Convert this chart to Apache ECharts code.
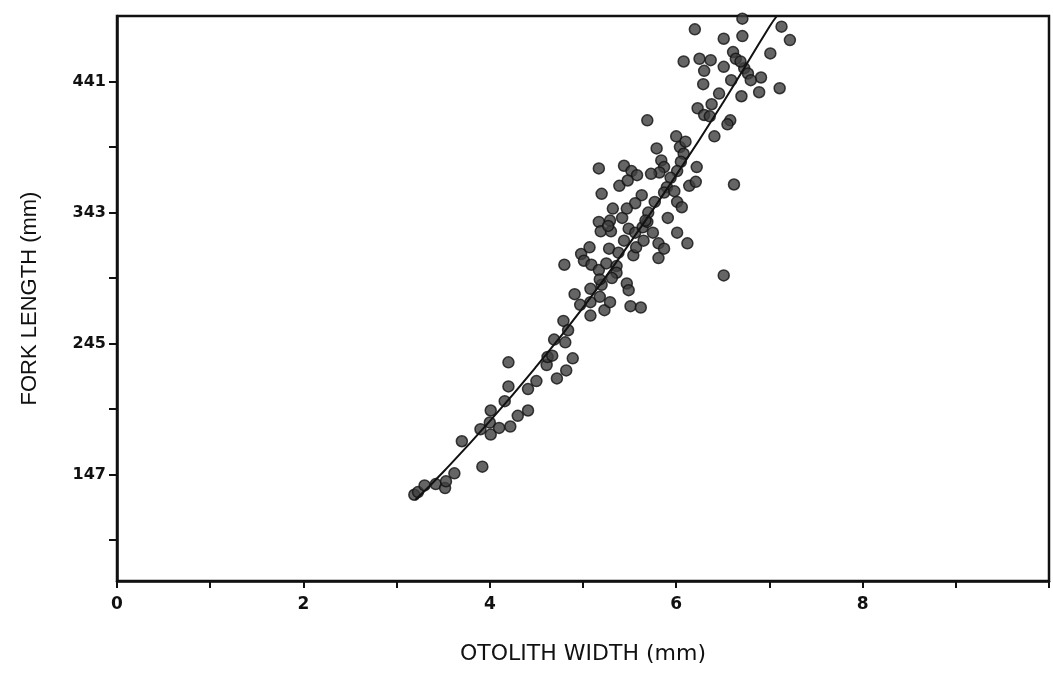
<!DOCTYPE html>
<html>
<head>
<meta charset="utf-8">
<script src="https://cdn.jsdelivr.net/npm/echarts@6/dist/echarts.min.js"></script>
<style>
html,body{margin:0;padding:0;background:#fff;}
#chart{width:1053px;height:674px;}
</style>
</head>
<body>
<div id="chart"></div>
<script>
// Otolith width (mm) of each fish
const otolithWidth = [
  3.19,3.23,3.30,3.42,3.52,3.53,3.62,3.92,3.70,3.90,
  4.01,4.00,4.01,4.10,4.22,4.16,4.30,4.41,4.20,4.20,
  4.41,4.50,4.61,4.62,4.67,4.72,4.82,4.89,4.69,4.81,
  4.79,4.84,4.91,4.97,5.08,5.08,5.08,5.18,5.20,5.23,
  5.29,5.47,5.49,5.51,5.62,4.80,4.98,5.01,5.07,5.09,
  5.17,5.25,5.36,5.36,5.31,5.18,5.28,5.38,5.44,5.54,
  5.57,5.17,5.29,5.19,5.30,5.42,5.49,5.56,5.64,5.69,
  5.75,5.65,5.81,5.81,5.87,6.01,6.12,5.91,6.51,6.62,
  5.17,5.44,5.52,5.58,5.84,5.87,5.82,5.73,6.04,6.08,
  6.05,6.01,6.22,6.14,6.21,5.39,5.48,5.20,5.94,5.90,
  5.87,5.63,5.56,5.47,5.32,5.98,6.01,6.06,5.77,5.70,
  5.67,5.27,5.79,5.69,6.00,6.41,6.10,6.23,6.30,6.36,
  6.58,6.55,6.46,6.38,6.70,6.29,6.59,6.89,7.11,6.91,
  6.73,6.77,6.80,6.51,6.61,6.64,6.69,6.08,6.25,6.37,
  6.30,7.01,6.51,6.71,6.20,6.71,7.13,7.22
];
// Fork length (mm) of each fish
const forkLength = [
  132,134,139,140,137,142,148,153,172,181,
  195,186,177,182,183,202,191,195,213,231,
  211,217,229,235,236,219,225,234,248,246,
  262,255,282,274,276,266,286,280,289,270,
  276,290,285,273,272,304,312,307,317,304,
  300,305,303,298,294,293,316,313,322,311,
  317,336,337,329,329,339,331,328,332,336,
  328,322,320,309,316,328,320,339,296,364,
  376,378,374,371,382,377,373,372,392,387,
  381,374,377,363,366,363,367,357,369,362,
  358,356,350,346,346,359,351,347,351,343,
  337,333,391,412,400,400,396,421,416,415,
  412,409,432,424,430,439,442,433,436,444,
  451,447,442,452,463,458,456,456,458,457,
  449,462,473,475,480,488,482,472
];
// Fitted curve
const curveX = [3.2, 3.5, 4.0, 4.5, 5.0, 5.5, 6.0, 6.5, 7.0, 7.08];
const curveY = [128, 149, 187, 228, 272, 320, 371, 425, 482, 490];
// Axis ticks and labels
const xTickLabels = [0, 2, 4, 6, 8];
const yTickValues = [98, 147, 196, 245, 294, 343, 392, 441];
const yTickLabels = [147, 245, 343, 441];

const points = otolithWidth.map((x, i) => [x, forkLength[i]]);
const curve = curveX.map((x, i) => [x, curveY[i]]);

const chart = echarts.init(document.getElementById('chart'), null, {renderer: 'canvas'});
const font = '"Liberation Sans", Arial, sans-serif';
const tickFont = '"DejaVu Sans", sans-serif';
chart.setOption({
  animation: false,
  backgroundColor: '#ffffff',
  grid: {
    left: 117, right: 4, top: 16, bottom: 93,
    show: true, borderColor: '#111', borderWidth: 2.5, backgroundColor: 'transparent'
  },
  xAxis: {
    type: 'value', min: 0, max: 10, interval: 1,
    name: 'OTOLITH WIDTH (mm)', nameLocation: 'middle', nameGap: 62,
    nameTextStyle: {fontFamily: '"DejaVu Sans", sans-serif', fontSize: 22, color: '#111'},
    axisLine: {show: true, onZero: false, lineStyle: {color: '#111', width: 2.5}},
    axisTick: {show: true, inside: false, length: 7, lineStyle: {color: '#111', width: 2}},
    axisLabel: {
      margin: 15, fontFamily: tickFont, fontSize: 17, fontWeight: 'bold', color: '#111',
      formatter: v => xTickLabels.includes(v) ? String(v) : ''
    },
    splitLine: {show: false}
  },
  yAxis: {
    type: 'value', min: 67.5, max: 490,
    name: 'FORK LENGTH (mm)', nameLocation: 'middle', nameGap: 76,
    nameTextStyle: {fontFamily: font, fontSize: 22, color: '#111'},
    axisLine: {show: true, onZero: false, lineStyle: {color: '#111', width: 2.5}},
    axisTick: {show: true, inside: false, length: 8, customValues: yTickValues, lineStyle: {color: '#111', width: 2}},
    axisLabel: {
      margin: 11, fontFamily: tickFont, fontSize: 16, fontWeight: 'bold', color: '#111',
      customValues: yTickLabels
    },
    splitLine: {show: false}
  },
  series: [
    {
      type: 'scatter', data: points, symbol: 'circle', symbolSize: 11,
      itemStyle: {color: '#3f3f3f', borderColor: '#111', borderWidth: 1.5}
    },
    {
      type: 'line', data: curve, smooth: true, symbol: 'none',
      lineStyle: {color: '#111', width: 2}, z: 3
    }
  ]
});
</script>
</body>
</html>
